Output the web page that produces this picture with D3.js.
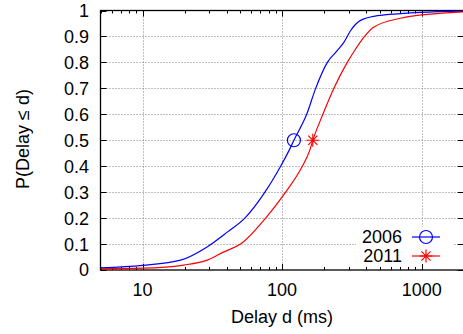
<!DOCTYPE html>
<html>
<head>
<meta charset="utf-8">
<script src="https://cdn.jsdelivr.net/npm/d3@7"></script>
<style>
  body { margin: 0; background: #fff; }
  text { font-family: "Liberation Sans", Arial, sans-serif; fill: #000; }
</style>
</head>
<body>
<div class="svg_container"></div>
<script>
// CDF of delay
var delay2006 = [5, 10, 18.7, 29.2, 40.7, 54.1, 75.3, 97.6, 112, 121.5, 150, 174, 211, 249, 277, 310, 365, 481, 707, 984, 2000];
var cdf2006   = [0.008, 0.018, 0.038, 0.09, 0.147, 0.2, 0.3, 0.4, 0.46, 0.5, 0.6, 0.7, 0.8, 0.846, 0.877, 0.923, 0.962, 0.98, 0.988, 0.993, 0.998];
var delay2011 = [5, 10, 19.7, 29.1, 38.3, 50.4, 76.2, 106, 139.6, 157.5, 166, 196, 235, 293, 331, 386, 455, 707, 1219, 2000];
var cdf2011   = [0.005, 0.007, 0.019, 0.038, 0.07, 0.1, 0.2, 0.3, 0.4, 0.46, 0.5, 0.6, 0.7, 0.8, 0.846, 0.897, 0.936, 0.97, 0.987, 0.995];
var medians = [121.5, 166];
var seriesNames = ["2006", "2011"];
var yTicks = [0, 0.1, 0.2, 0.3, 0.4, 0.5, 0.6, 0.7, 0.8, 0.9, 1];
var xMajor = [10, 100, 1000];

var W = 463, H = 334;
// plot box (note: "top" is reserved on window, so use px* names)
var pxLeft = 100.5, pxTop = 10.5, pxBottom = 270, pxRight = 463.7;

var x = d3.scaleLog().domain([5, 2000]).range([pxLeft, pxRight]);
var y = d3.scaleLinear().domain([0, 1]).range([pxBottom, pxTop]);

var svg = d3.select(".svg_container").append("svg")
  .attr("width", W)
  .attr("height", H);

// minor ticks on the log axis
var xMinor = [];
[1, 10, 100, 1000].forEach(function(dec) {
  for (var k = 2; k <= 9; k++) {
    var v = dec * k;
    if (v >= 5 && v <= 2000) xMinor.push(v);
  }
});

// grid
var grid = svg.append("g")
  .attr("stroke", "#808080")
  .attr("stroke-width", 1)
  .attr("stroke-dasharray", "1,2");
grid.selectAll(".gy").data(yTicks.slice(1, -1)).enter().append("line")
  .attr("x1", pxLeft).attr("x2", pxRight)
  .attr("y1", function(d) { return Math.round(y(d)) + 0.5; })
  .attr("y2", function(d) { return Math.round(y(d)) + 0.5; });
grid.selectAll(".gx").data(xMajor).enter().append("line")
  .attr("y1", pxTop).attr("y2", pxBottom)
  .attr("x1", function(d) { return Math.round(x(d)) + 0.5; })
  .attr("x2", function(d) { return Math.round(x(d)) + 0.5; });

// legend background hides the grid
svg.append("rect")
  .attr("x", 356).attr("y", 227)
  .attr("width", 97).attr("height", 40)
  .attr("fill", "#fff");

// ticks (inward, mirrored)
var ticks = svg.append("g").attr("stroke", "#000").attr("stroke-width", 1);
yTicks.forEach(function(d) {
  var yy = Math.round(y(d)) + 0.5;
  ticks.append("line").attr("x1", pxLeft).attr("x2", pxLeft + 6).attr("y1", yy).attr("y2", yy);
  ticks.append("line").attr("x1", pxRight).attr("x2", pxRight - 6).attr("y1", yy).attr("y2", yy);
});
xMajor.forEach(function(d) {
  var xx = Math.round(x(d)) + 0.5;
  ticks.append("line").attr("x1", xx).attr("x2", xx).attr("y1", pxBottom).attr("y2", pxBottom - 6);
  ticks.append("line").attr("x1", xx).attr("x2", xx).attr("y1", pxTop).attr("y2", pxTop + 6);
});
xMinor.forEach(function(d) {
  var xx = Math.round(x(d)) + 0.5;
  ticks.append("line").attr("x1", xx).attr("x2", xx).attr("y1", pxBottom).attr("y2", pxBottom - 3);
  ticks.append("line").attr("x1", xx).attr("x2", xx).attr("y1", pxTop).attr("y2", pxTop + 3);
});

// border
svg.append("rect")
  .attr("x", pxLeft).attr("y", pxTop)
  .attr("width", pxRight - pxLeft).attr("height", pxBottom - pxTop)
  .attr("fill", "none")
  .attr("stroke", "#000")
  .attr("stroke-width", 1.3);

// tick labels
svg.selectAll(".ylab").data(yTicks).enter().append("text")
  .attr("x", 89)
  .attr("y", function(d) { return y(d); })
  .attr("dy", "0.36em")
  .attr("text-anchor", "end")
  .style("font-size", "18px")
  .text(function(d) { return d3.format("~g")(d); });
svg.selectAll(".xlab").data(xMajor).enter().append("text")
  .attr("x", function(d) { return x(d); })
  .attr("y", 296)
  .attr("text-anchor", "middle")
  .style("font-size", "18px")
  .text(function(d) { return d; });

// axis titles
svg.append("text")
  .attr("x", 282).attr("y", 323)
  .attr("text-anchor", "middle")
  .style("font-size", "18px")
  .text("Delay d (ms)");
svg.append("text")
  .attr("transform", "translate(29,139) rotate(-90)")
  .attr("text-anchor", "middle")
  .style("font-size", "18px")
  .text("P(Delay \u2264 d)");

// curves
var line = d3.line()
  .x(function(d) { return x(d[0]); })
  .y(function(d) { return y(d[1]); })
  .curve(d3.curveMonotoneX);

var series = [
  { name: seriesNames[0], color: "#0000ff", pts: d3.zip(delay2006, cdf2006), med: medians[0] },
  { name: seriesNames[1], color: "#ff0000", pts: d3.zip(delay2011, cdf2011), med: medians[1] }
];

svg.append("clipPath").attr("id", "clip").append("rect")
  .attr("x", pxLeft).attr("y", pxTop - 2).attr("width", pxRight - pxLeft).attr("height", pxBottom - pxTop + 2);

series.forEach(function(s) {
  svg.append("path")
    .attr("clip-path", "url(#clip)")
    .attr("d", line(s.pts))
    .attr("fill", "none")
    .attr("stroke", s.color)
    .attr("stroke-width", 1.2);
});

function circleMark(g, cx, cy, color) {
  g.append("circle").attr("cx", cx).attr("cy", cy).attr("r", 6.5)
    .attr("fill", "none").attr("stroke", color).attr("stroke-width", 1.2);
}
function starMark(g, cx, cy, color) {
  var r = 6.5, d = r * 0.7071;
  var p = "M" + (cx - r) + "," + cy + "H" + (cx + r) +
    "M" + cx + "," + (cy - r) + "V" + (cy + r) +
    "M" + (cx - d) + "," + (cy - d) + "L" + (cx + d) + "," + (cy + d) +
    "M" + (cx - d) + "," + (cy + d) + "L" + (cx + d) + "," + (cy - d);
  g.append("path").attr("d", p).attr("stroke", color).attr("stroke-width", 1.2).attr("fill", "none");
}

circleMark(svg, x(series[0].med), y(0.5), series[0].color);
starMark(svg, x(series[1].med), y(0.5), series[1].color);

// legend
var legY = [237, 256];
series.forEach(function(s, i) {
  svg.append("text")
    .attr("x", 402).attr("y", legY[i])
    .attr("dy", "0.36em")
    .attr("text-anchor", "end")
    .style("font-size", "18px")
    .text(s.name);
  svg.append("line")
    .attr("x1", 412).attr("x2", 440)
    .attr("y1", legY[i]).attr("y2", legY[i])
    .attr("stroke", s.color).attr("stroke-width", 1.2);
  if (i === 0) circleMark(svg, 426, legY[i], s.color);
  else starMark(svg, 426, legY[i], s.color);
});
</script>
</body>
</html>
